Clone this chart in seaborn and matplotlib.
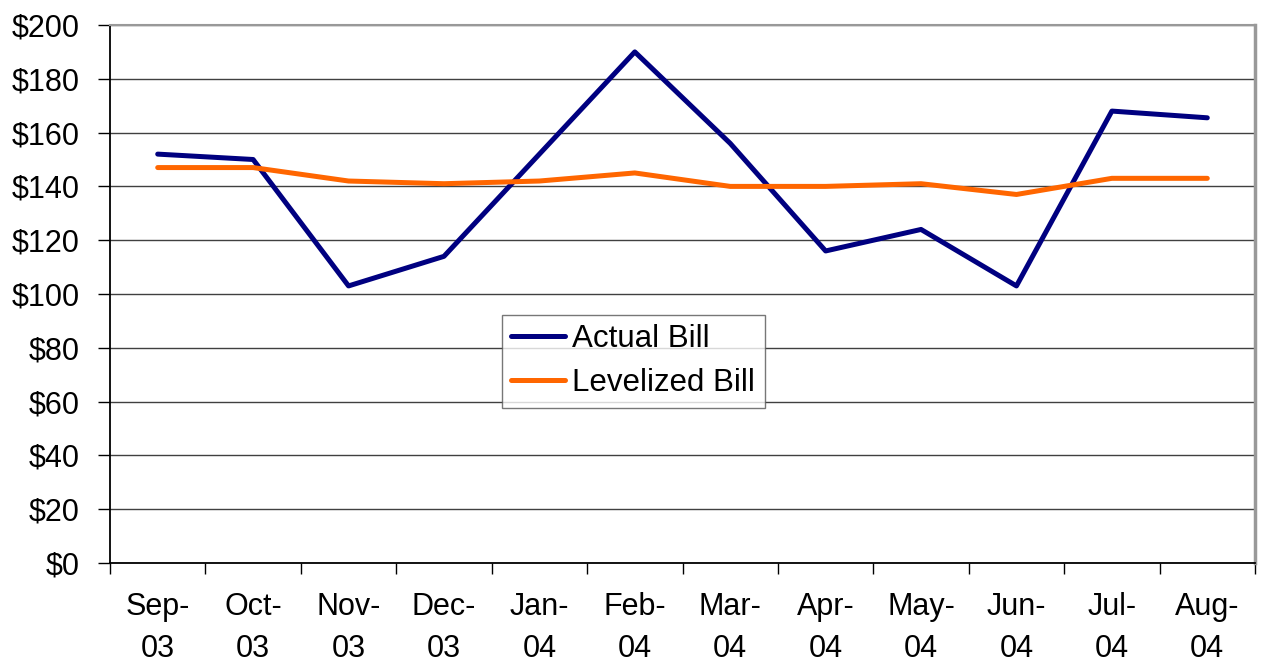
import pandas as pd
import matplotlib.pyplot as plt
import seaborn as sns
from matplotlib.ticker import FuncFormatter, MultipleLocator

months = ['Sep-\n03', 'Oct-\n03', 'Nov-\n03', 'Dec-\n03', 'Jan-\n04', 'Feb-\n04',
          'Mar-\n04', 'Apr-\n04', 'May-\n04', 'Jun-\n04', 'Jul-\n04', 'Aug-\n04']
actual_bill = [152, 150, 103, 114, 152, 190, 156, 116, 124, 103, 168, 165.5]
levelized_bill = [147, 147, 142, 141, 142, 145, 140, 140, 141, 137, 143, 143]

df = pd.DataFrame({
    'x': list(range(len(months))) * 2,
    'value': actual_bill + levelized_bill,
    'series': ['Actual Bill'] * len(months) + ['Levelized Bill'] * len(months),
})

sns.set_style('white', {'xtick.bottom': True, 'ytick.left': True})
plt.rcParams['font.family'] = ['Liberation Sans', 'DejaVu Sans']
plt.rcParams['text.color'] = 'black'
plt.rcParams['xtick.color'] = 'black'
plt.rcParams['ytick.color'] = 'black'

fig = plt.figure(figsize=(12.61, 6.62), dpi=100)
ax = fig.add_axes([110 / 1261, 1 - 563 / 662, (1255 - 110) / 1261, (563 - 25) / 662])

sns.lineplot(data=df, x='x', y='value', hue='series',
             palette={'Actual Bill': '#000080', 'Levelized Bill': '#FF6600'},
             linewidth=3.6, ax=ax, legend=True)

ax.set_xlim(-0.5, len(months) - 0.5)
ax.set_ylim(0, 200)
ax.yaxis.set_major_locator(MultipleLocator(20))
ax.yaxis.set_major_formatter(FuncFormatter(lambda v, p: f'${v:.0f}'))
ax.set_xticks(range(len(months)))
ax.set_xticklabels(months, linespacing=1.5)
ax.set_xticks([i - 0.5 for i in range(len(months) + 1)], minor=True)
ax.tick_params(axis='x', which='major', length=0, pad=21, labelsize=22, labelcolor='black')
ax.tick_params(axis='x', which='minor', bottom=True, length=8, width=1, color='black', direction='out')
ax.tick_params(axis='y', left=True, length=9, width=1, color='black', direction='out',
               labelsize=22, pad=13, labelcolor='black')
ax.yaxis.grid(True, color='#404040', linewidth=1)
ax.set_axisbelow(True)
ax.set_xlabel('')
ax.set_ylabel('')
for s in ['top', 'right']:
    ax.spines[s].set_visible(True)
    ax.spines[s].set_color('#999999')
ax.spines['top'].set_linewidth(1.5)
ax.spines['right'].set_linewidth(2.5)
for s in ['left', 'bottom']:
    ax.spines[s].set_color('black')
    ax.spines[s].set_linewidth(1.3)

leg = ax.legend(loc='upper left', bbox_to_anchor=((502 - 110) / 1145, 1 - (315 - 25) / 538),
                fontsize=22.5, frameon=True, fancybox=False, borderpad=0.3,
                handlelength=1.7, handletextpad=0.25, labelspacing=0.45, borderaxespad=0)
leg.get_frame().set_edgecolor('#555555')
leg.get_frame().set_linewidth(1)
for t in leg.get_texts():
    t.set_color('black')

fig.savefig('out.png', dpi=100)
